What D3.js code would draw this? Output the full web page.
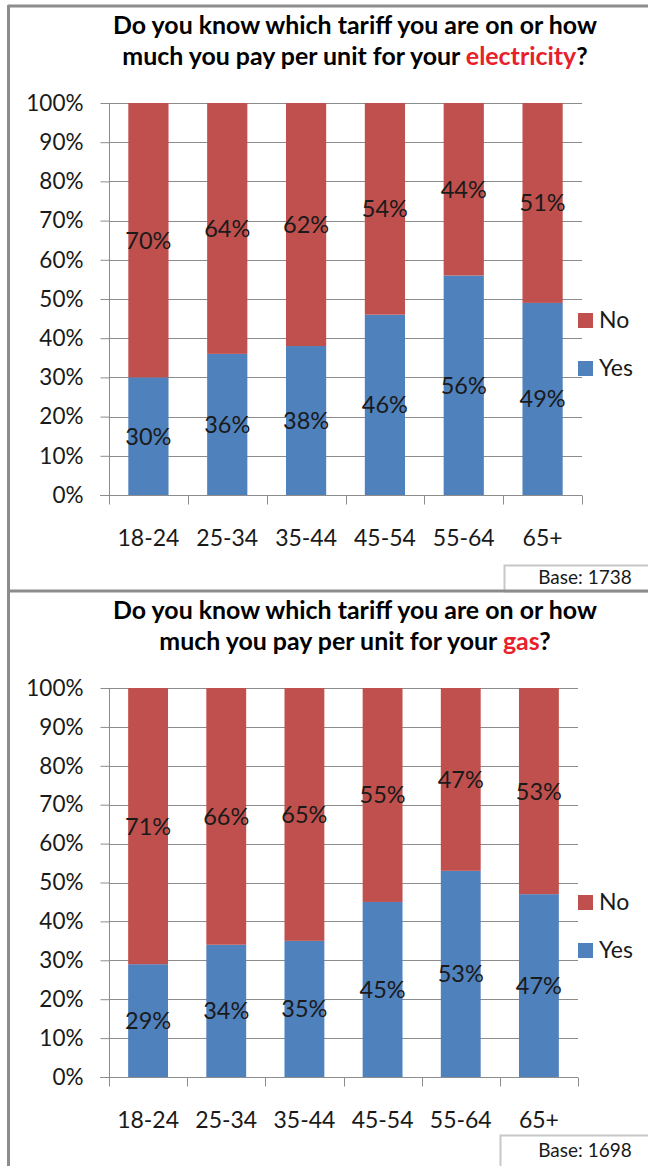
<!DOCTYPE html>
<html>
<head>
<meta charset="utf-8">
<script src="https://cdn.jsdelivr.net/npm/d3@7/dist/d3.min.js"></script>
<style>
  html, body { margin: 0; padding: 0; background: #fff; }
  svg { display: block; }
  text { font-family: Lato, "Open Sans", sans-serif; }
</style>
</head>
<body>
<svg id="chart" width="648" height="1166"></svg>
<script>
// ---- data ----
const categories = ["18-24", "25-34", "35-44", "45-54", "55-64", "65+"];
const seriesNames = ["Yes", "No"];
const elecYes = [30, 36, 38, 46, 56, 49];
const elecNo  = [70, 64, 62, 54, 44, 51];
const gasYes  = [29, 34, 35, 45, 53, 47];
const gasNo   = [71, 66, 65, 55, 47, 53];
const yTicks = [0, 10, 20, 30, 40, 50, 60, 70, 80, 90, 100];
const titleLine1 = "Do you know which tariff you are on or how";
const titleLine2Prefix = "much you pay per unit for your ";
const elecWord = "electricity";
const gasWord = "gas";
const elecBase = "Base: 1738";
const gasBase = "Base: 1698";

const colors = { Yes: "#4F81BD", No: "#C0504D" };
const svg = d3.select("#chart");

// panel frames
svg.append("line").attr("x1", 8).attr("x2", 648).attr("y1", 6).attr("y2", 6)
  .attr("stroke", "#8c8c8c").attr("stroke-width", 3);
svg.append("line").attr("x1", 8.5).attr("x2", 8.5).attr("y1", 5).attr("y2", 1166)
  .attr("stroke", "#8c8c8c").attr("stroke-width", 3);

function fitSize(sel, base, target) {
  const w = sel.node().getComputedTextLength();
  return base * target / w;
}

function drawChart(o) {
  const g = svg.append("g");
  // title
  const t = g.append("text").attr("x", 355).attr("font-weight", "bold")
    .attr("font-size", 21).attr("text-anchor", "middle").attr("fill", "#000");
  const t1 = t.append("tspan").attr("x", 355).attr("y", o.titleY).text(titleLine1);
  const fs = fitSize(t, 21, 484);
  t.attr("font-size", fs);
  const t2 = t.append("tspan").attr("x", 355).attr("y", o.titleY + 31);
  t2.append("tspan").text(titleLine2Prefix);
  t2.append("tspan").attr("fill", "#E8202A").text(o.word);
  t2.append("tspan").text("?");

  const x = d3.scaleBand().domain(categories).range([109, o.xEnd])
    .paddingInner(0.49).paddingOuter(0.245);
  const y = d3.scaleLinear().domain([0, 100]).range([o.yBottom, o.yTop]);

  // gridlines
  g.append("g").selectAll("line").data(yTicks.filter(d => d > 0)).join("line")
    .attr("x1", 109).attr("x2", o.xEnd)
    .attr("y1", d => Math.round(y(d)) + 0.5).attr("y2", d => Math.round(y(d)) + 0.5)
    .attr("stroke", "#8c8c8c").attr("stroke-width", 1);

  // stacked bars
  const rows = categories.map((c, i) => ({ cat: c, Yes: o.yes[i], No: o.no[i] }));
  const stack = d3.stack().keys(seriesNames)(rows);
  const layers = g.append("g").selectAll("g").data(stack).join("g")
    .attr("fill", d => colors[d.key]);
  layers.selectAll("rect").data(d => d).join("rect")
    .attr("x", d => x(d.data.cat))
    .attr("width", x.bandwidth())
    .attr("y", d => y(d[1]))
    .attr("height", d => y(d[0]) - y(d[1]));

  // labels
  const lab = g.append("g");
  stack.forEach(layer => {
    lab.selectAll(null).data(layer).join("text")
      .attr("x", d => x(d.data.cat) + x.bandwidth() / 2)
      .attr("y", d => y((d[0] + d[1]) / 2))
      .attr("dy", "0.36em")
      .attr("text-anchor", "middle").attr("font-size", 23.5).attr("fill", "#1a1a1a")
      .text(d => (d[1] - d[0]) + "%");
  });

  // y axis
  const yAxis = d3.axisLeft(y).tickValues(yTicks).tickFormat(d => d + "%")
    .tickSize(9).tickPadding(17);
  const ya = g.append("g").attr("transform", "translate(109.5,0)").call(yAxis);
  ya.selectAll("line").attr("stroke", "#8c8c8c");
  ya.select(".domain").attr("stroke", "#8c8c8c").attr("d", `M0,${o.yTop}V${o.yBottom}`);
  ya.selectAll("text").attr("font-size", 22.5).attr("fill", "#1a1a1a")
    .attr("font-family", "Lato, 'Open Sans', sans-serif");

  // x axis
  const xa = g.append("g").attr("transform", `translate(0,${Math.round(o.yBottom) + 0.5})`);
  xa.append("line").attr("x1", 100).attr("x2", o.xEnd).attr("stroke", "#8c8c8c");
  const step = x.step();
  const bounds = d3.range(categories.length + 1).map(i => 109 + i * step);
  xa.selectAll("line.tk").data(bounds).join("line").attr("class", "tk")
    .attr("x1", d => Math.round(d) + 0.5).attr("x2", d => Math.round(d) + 0.5)
    .attr("y1", 0).attr("y2", 9).attr("stroke", "#8c8c8c");
  xa.selectAll("text").data(categories).join("text")
    .attr("x", d => x(d) + x.bandwidth() / 2)
    .attr("y", 50).attr("text-anchor", "middle").attr("font-size", 23)
    .attr("fill", "#1a1a1a").text(d => d);

  // legend
  const leg = g.append("g");
  ["No", "Yes"].forEach((k, i) => {
    const cy = o.legendY + i * 48;
    leg.append("rect").attr("x", 578).attr("y", cy - 7).attr("width", 15).attr("height", 15)
      .attr("fill", colors[k]);
    leg.append("text").attr("x", 599).attr("y", cy).attr("dy", "0.36em")
      .attr("font-size", 23).attr("fill", "#1a1a1a").text(k);
  });

  // base box
  g.append("rect").attr("x", o.baseX + 0.5).attr("y", o.baseY + 0.5)
    .attr("width", 660 - o.baseX).attr("height", o.baseH)
    .attr("fill", "#fff").attr("stroke", "#c8c8c8").attr("stroke-width", 2);
  g.append("text").attr("x", 585).attr("y", o.baseY + o.baseTextDy)
    .attr("text-anchor", "middle").attr("font-size", 19).attr("fill", "#1a1a1a")
    .attr("font-family", "Lato, 'Open Sans', sans-serif")
    .text(o.base);
}

drawChart({ word: elecWord, yes: elecYes, no: elecNo, titleY: 34,
  yTop: 103, yBottom: 495, xEnd: 582, legendY: 320,
  baseX: 504, baseY: 565, baseH: 26, baseTextDy: 19, base: elecBase });

// divider between panels
svg.append("line").attr("x1", 8).attr("x2", 648).attr("y1", 591).attr("y2", 591)
  .attr("stroke", "#8c8c8c").attr("stroke-width", 3);

drawChart({ word: gasWord, yes: gasYes, no: gasNo, titleY: 619,
  yTop: 688, yBottom: 1077, xEnd: 578, legendY: 902,
  baseX: 500, baseY: 1135, baseH: 40, baseTextDy: 22, base: gasBase });
</script>
</body>
</html>
